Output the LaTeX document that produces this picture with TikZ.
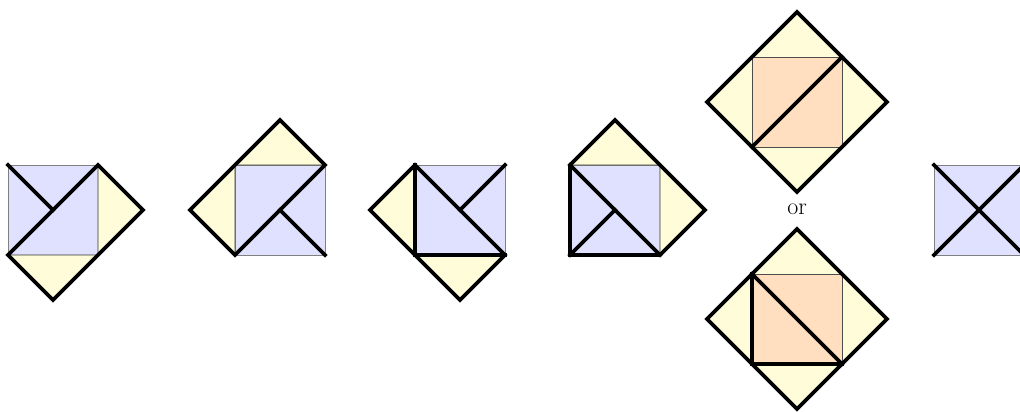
\documentclass[tikz,border=0pt]{standalone}
\begin{document}
\begin{tikzpicture}[x=1pt,y=-1pt,
  sqb/.style={fill=blue!12, draw=gray, line width=0.8pt},
  sqo/.style={fill=orange!25, draw=black!70, line width=0.8pt},
  tri/.style={fill=yellow!15, draw=black!80, line width=0.7pt},
  cut/.style={line width=3.8pt, line join=miter, line cap=rect}]
\clip (0,0) rectangle (1020,412);
% ---- figure 1
\draw[sqb] (8,165) rectangle (98,255);
\draw[tri] (98,165) -- (143,210) -- (98,255) -- cycle;
\draw[tri] (8,255) -- (53,300) -- (98,255) -- cycle;
\draw[cut] (8,255) -- (53,300) -- (98,255) -- (143,210) -- (98,165) -- cycle;
\draw[cut] (8,165) -- (53,210);
% ---- figure 2
\draw[sqb] (235,165) rectangle (325,255);
\draw[tri] (235,165) -- (280,120) -- (325,165) -- cycle;
\draw[tri] (235,165) -- (190,210) -- (235,255) -- cycle;
\draw[cut] (235,255) -- (190,210) -- (235,165) -- (280,120) -- (325,165) -- cycle;
\draw[cut] (280,210) -- (325,255);
% ---- figure 3
\draw[sqb] (415,165) rectangle (505,255);
\draw[tri] (415,165) -- (370,210) -- (415,255) -- cycle;
\draw[tri] (415,255) -- (460,300) -- (505,255) -- cycle;
\draw[cut] (415,165) -- (370,210) -- (415,255) -- (460,300) -- (505,255) -- cycle;
\draw[cut] (415,165) -- (415,255) -- (505,255);
\draw[cut] (460,210) -- (505,165);
% ---- figure 4
\draw[sqb] (570,165) rectangle (660,255);
\draw[tri] (570,165) -- (615,120) -- (660,165) -- cycle;
\draw[tri] (660,165) -- (705,210) -- (660,255) -- cycle;
\draw[cut] (570,165) -- (615,120) -- (660,165) -- (705,210) -- (660,255) -- (570,255) -- cycle;
\draw[cut] (570,165) -- (660,255);
\draw[cut] (570,255) -- (615,210);
% ---- figure 5 (top)
\fill[yellow!15] (797,12) -- (887,102) -- (797,192) -- (707,102) -- cycle;
\draw[sqo] (752,57) rectangle (842,147);
\draw[cut] (797,12) -- (887,102) -- (797,192) -- (707,102) -- cycle;
\draw[cut] (752,147) -- (842,57);
\node[font=\fontsize{24}{28}\selectfont] (or) at (797,209) {or};
% ---- figure 5 (bottom)
\fill[yellow!15] (797,229) -- (887,319) -- (797,409) -- (707,319) -- cycle;
\draw[sqo] (752,274) rectangle (842,364);
\draw[cut] (797,229) -- (887,319) -- (797,409) -- (707,319) -- cycle;
\draw[cut] (752,274) -- (752,364) -- (842,364);
\draw[cut] (752,274) -- (842,364);
% ---- figure 6
\draw[sqb] (934,165) rectangle (1024,255);
\draw[cut] (934,165) -- (1024,255);
\draw[cut] (934,255) -- (1024,165);
\end{tikzpicture}
\end{document}
